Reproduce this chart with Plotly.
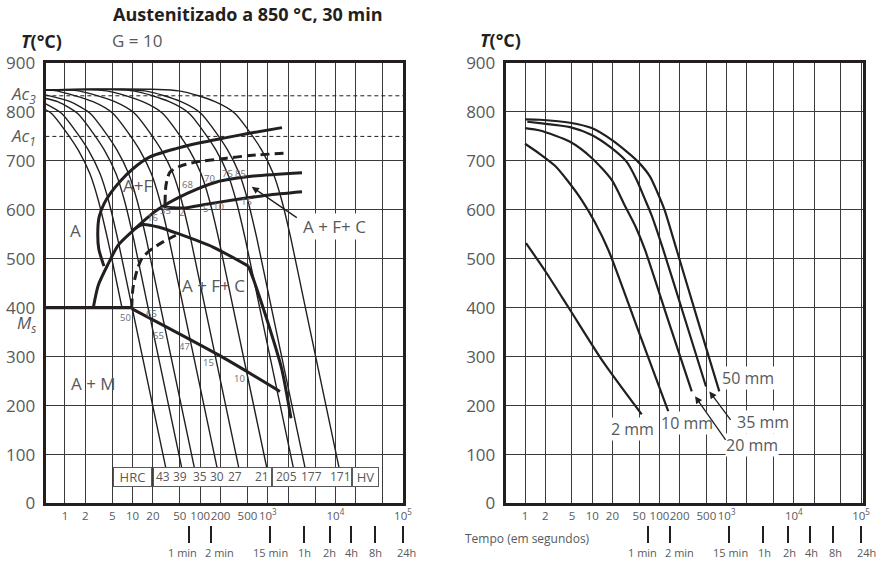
import plotly.graph_objects as go

INK = '#231f20'
GRAY = '#58595b'
LGRAY = '#6d6e71'
GRID = '#3a3a3a'
FONT = 'Open Sans'

# ---------------- ticks ----------------
temp_ticks = [0, 100, 200, 300, 400, 500, 600, 700, 800, 900]
time_grid_s = [1, 2, 5, 10, 20, 50, 100, 200, 500, 1000, 2000, 5000, 10000, 20000, 50000, 100000]
time_grid_text = ['1', '2', '5', '10', '20', '50', '100', '200', '500', '10<sup>3</sup>', '', '',
                  '10<sup>4</sup>', '', '', '10<sup>5</sup>']
clock_marks_s = [68, 145, 1080, 3470, 8300, 17250, 38300, 100000]
clock_marks_text = ['1 min', '2 min', '15 min', '1h', '2h', '4h', '8h', '24h']
clock_label_px = [182.5, 219, 270, 304, 329, 351.3, 375, 406]   # label centres (left chart)

# ---------------- left chart: cooling curves (log10 seconds, degC) ----------------
f1_lgt = [-0.29, -0.198, -0.002, 0.197, 0.368, 0.492, 0.634, 0.843]
f1_T = [805, 797, 763, 722, 674, 620, 538, 400]
e1_lgt = [-0.29, -0.048, 0.148, 0.347, 0.518, 0.642, 0.784, 0.993, 1.490]
e1_T = [817, 797, 763, 722, 674, 620, 538, 400, 74]
e2_lgt = [-0.29, -0.108, 0.188, 0.384, 0.583, 0.754, 0.878, 1.020, 1.229, 1.726]
e2_T = [828, 821, 797, 763, 722, 674, 620, 538, 400, 74]
e3_lgt = [-0.29, 0.079, 0.375, 0.571, 0.770, 0.941, 1.065, 1.207, 1.416, 1.913]
e3_T = [835, 821, 797, 763, 722, 674, 620, 538, 400, 74]
e4_lgt = [-0.29, -0.121, 0.415, 0.711, 0.907, 1.106, 1.277, 1.401, 1.543, 1.752, 2.249]
e4_T = [845, 843, 821, 797, 763, 722, 674, 620, 538, 400, 74]
e5_lgt = [-0.29, 0.200, 0.736, 1.032, 1.228, 1.427, 1.598, 1.722, 1.864, 2.073, 2.570]
e5_T = [845, 843, 821, 797, 763, 722, 674, 620, 538, 400, 74]
e6_lgt = [-0.29, 0.614, 1.150, 1.446, 1.642, 1.841, 2.012, 2.136, 2.278, 2.487, 2.984]
e6_T = [845, 843, 821, 797, 763, 722, 674, 620, 538, 400, 74]
e7_lgt = [-0.29, 1.007, 1.543, 1.839, 2.035, 2.234, 2.405, 2.529, 2.671, 2.880, 3.377]
e7_T = [845, 843, 821, 797, 763, 722, 674, 620, 538, 400, 74]
e8_lgt = [-0.29, 1.180, 1.716, 2.012, 2.208, 2.407, 2.578, 2.702, 2.844, 3.053, 3.550]
e8_T = [845, 843, 821, 797, 763, 722, 674, 620, 538, 400, 74]
e9_lgt = [-0.29, 1.683, 2.219, 2.515, 2.711, 2.910, 3.081, 3.205, 3.347, 3.556, 4.053]
e9_T = [845, 843, 821, 797, 763, 722, 674, 620, 538, 400, 74]

# transformation lines
fs_lgt = [0.577, 0.50, 0.485, 0.505, 0.577, 0.680, 0.814, 1.006, 1.257, 1.642, 1.997, 2.367, 2.707, 3.210]
fs_T = [485, 520, 552, 585, 612, 635, 658, 684, 708, 725, 737, 747, 756, 768]
b_lgt = [0.419, 0.493, 0.641, 0.788, 1.010, 1.357, 1.800, 2.244, 2.786, 3.506]
b_T = [400, 446, 490, 528, 558, 599, 633, 657, 669, 676]
c_lgt = [1.45, 1.60, 1.78, 2.07, 2.485, 2.988, 3.506]
c_T = [607, 604, 604, 611, 620, 630, 637]
ud_lgt = [1.48, 1.494, 1.553, 1.701, 1.953, 2.367, 2.737, 3.284]
ud_T = [612, 650, 677, 689, 698, 705, 711, 716]
ld_lgt = [0.987, 1.006, 1.065, 1.139, 1.257, 1.42, 1.64]
ld_T = [400, 440, 476, 501, 517, 532, 548]
d_arc_lgt = [1.0, 1.154, 1.405, 1.701, 2.189, 2.714]
d_arc_T = [558, 570, 564, 550, 524, 485]
d_drop_lgt = [2.714, 2.788, 2.973, 3.206, 3.343]
d_drop_T = [485, 458, 382, 275, 174]
bf_lgt = [0.987, 2.367, 3.180]
bf_T = [398, 296, 229]
ms_lgt = [-0.29, 0.987]
ms_T = [400, 400]
ac3_T = 833
ac1_T = 750

# ---------------- right chart: bar cooling curves ----------------
r2_lgt = [0.015, 0.30, 0.65, 1.15, 1.737]
r2_T = [532, 475, 400, 292, 182]
r10_lgt = [0.0, 0.223, 0.446, 0.625, 0.844, 1.034, 1.240, 1.686, 2.132]
r10_T = [735, 714, 690, 661, 620, 576, 518, 353, 188]
r20_lgt = [0.0, 0.223, 0.670, 0.993, 1.290, 1.488, 1.644, 1.786, 2.133, 2.481]
r20_T = [767, 762, 739, 706, 661, 608, 566, 518, 373, 229]
r35_lgt = [0.034, 0.223, 0.670, 0.993, 1.290, 1.513, 1.662, 1.771, 1.880, 2.058, 2.375, 2.693]
r35_T = [780, 777, 769, 753, 726, 698, 661, 626, 590, 518, 379, 239]
r50_lgt = [0.0, 0.223, 0.670, 0.993, 1.290, 1.513, 1.677, 1.860, 1.972, 2.076, 2.257, 2.573, 2.891]
r50_T = [785, 784, 778, 767, 743, 719, 699, 668, 635, 600, 518, 373, 229]

# ---------------- text data ----------------
region_labels = [('A+F', 1.070, 650), ('A', 0.163, 558), ('A + F+ C', 2.194, 446),
                 ('A + M', 0.419, 246)]
small_labels = [('68', 1.815, 652), ('70', 2.145, 664), ('75', 2.407, 674), ('85', 2.599, 675),
                ('35', 1.490, 598), ('2', 1.726, 594), ('5', 2.081, 603), ('10', 2.278, 606),
                ('15', 2.688, 616), ('16', 1.297, 584), ('50', 0.902, 379), ('65', 1.283, 388),
                ('65', 1.391, 344), ('47', 1.775, 320), ('15', 2.120, 288), ('10', 2.589, 256)]
hard_values = ['43', '39', '35', '30', '27', '21', '205', '177', '171']
hard_lgt = [1.454, 1.701, 1.997, 2.244, 2.515, 2.910, 3.280, 3.649, 4.078]
box_cells = [('HRC', 1.003, 37), (' ', 2.175, 117), (' ', 3.654, 78), ('HV', 4.448, 25)]
box_T = 54.8
bar_labels = [('50 mm', 3.318, 256), ('35 mm', 3.542, 166), ('20 mm', 3.374, 120),
              ('10 mm', 2.406, 165), ('2 mm', 1.600, 152)]

W, H = 878, 563
fig = go.Figure()


def add_line(lgt, T, width, xa='x', ya='y', dash=None, shape='spline'):
    fig.add_trace(go.Scatter(
        x=[10 ** v for v in lgt], y=T, mode='lines', xaxis=xa, yaxis=ya,
        line=dict(color=INK, width=width, dash=dash, shape=shape, smoothing=0.7),
        hoverinfo='skip', showlegend=False))


# left thin cooling curves
for lg_, T_ in [(f1_lgt, f1_T), (e1_lgt, e1_T), (e2_lgt, e2_T), (e3_lgt, e3_T), (e4_lgt, e4_T),
                (e5_lgt, e5_T), (e6_lgt, e6_T), (e7_lgt, e7_T), (e8_lgt, e8_T), (e9_lgt, e9_T)]:
    add_line(lg_, T_, 1.4)

# Ac lines
x_full = [-0.29, 5.01]
add_line(x_full, [ac3_T, ac3_T], 1, dash='4px,3px', shape='linear')
add_line(x_full, [ac1_T, ac1_T], 1, dash='4px,3px', shape='linear')

# thick transformation lines
add_line(fs_lgt, fs_T, 3)
add_line(b_lgt, b_T, 3)
add_line(c_lgt, c_T, 3)
add_line(ud_lgt, ud_T, 3, dash='9px,5px')
add_line(ld_lgt, ld_T, 3, dash='9px,5px')
add_line(d_arc_lgt, d_arc_T, 3)
add_line(d_drop_lgt, d_drop_T, 3)
add_line(bf_lgt, bf_T, 3)
add_line(ms_lgt, ms_T, 3.2, shape='linear')

# right curves
for lg_, T_ in [(r2_lgt, r2_T), (r10_lgt, r10_T), (r20_lgt, r20_T), (r35_lgt, r35_T), (r50_lgt, r50_T)]:
    add_line(lg_, T_, 2.2, xa='x2', ya='y2')

# dummy traces for the clock-mark axes
fig.add_trace(go.Scatter(x=[10], y=[None], xaxis='x3', yaxis='y', showlegend=False, hoverinfo='skip'))
fig.add_trace(go.Scatter(x=[10], y=[None], xaxis='x4', yaxis='y2', showlegend=False, hoverinfo='skip'))

ydom = [0.1057, 0.8881]
xl_dom = [0.0520, 0.4593]
xr_dom = [0.5760, 0.9826]
xl_range = [-0.2855, 5.004]
xr_range = [-0.287, 5.025]

common_x = dict(type='log', tickmode='array', tickvals=time_grid_s, ticktext=time_grid_text,
                showgrid=True, gridcolor=GRID, gridwidth=1, showline=True, mirror=True,
                linecolor=INK, linewidth=3, ticks='', zeroline=False, automargin=False,
                tickangle=0, tickfont=dict(family=FONT, size=11.5, color=GRAY))
common_y = dict(range=[0, 900], tickmode='array', tickvals=temp_ticks, showgrid=True,
                gridcolor=GRID, gridwidth=1.2, showline=True, mirror=True, linecolor=INK,
                linewidth=3, ticks='', zeroline=False, ticklabelstandoff=4, automargin=False,
                tickfont=dict(family=FONT, size=17, color=GRAY), domain=ydom)
clock_axis = dict(type='log', tickmode='array', tickvals=clock_marks_s, showticklabels=False,
                  showgrid=False, showline=False, zeroline=False, ticks='outside', ticklen=17,
                  tickwidth=2, tickcolor=INK, anchor='free', position=0.0675, side='bottom',
                  automargin=False)

fig.update_layout(
    width=W, height=H, margin=dict(l=0, r=0, t=0, b=0, autoexpand=False),
    paper_bgcolor='white', plot_bgcolor='white', showlegend=False,
    font=dict(family=FONT, color=GRAY),
    xaxis=dict(common_x, domain=xl_dom, range=xl_range, anchor='y'),
    yaxis=dict(common_y, anchor='x'),
    xaxis2=dict(common_x, domain=xr_dom, range=xr_range, anchor='y2'),
    yaxis2=dict(common_y, anchor='x2'),
    xaxis3=dict(clock_axis, overlaying='x', range=xl_range),
    xaxis4=dict(clock_axis, overlaying='x2', range=xr_range),
)

ann = []


def txt_ann(text, x, y, xref, yref, size, color=GRAY, **kw):
    d = dict(text=text, x=x, y=y, xref=xref, yref=yref, showarrow=False,
             xanchor=kw.pop('xanchor', 'center'), yanchor='middle',
             font=dict(family=FONT, size=size, color=color))
    d.update(kw)
    ann.append(d)


# titles
txt_ann('<b>Austenitizado a 850 °C, 30 min</b>', 247.5 / W, 1 - 14 / H, 'paper', 'paper', 18, INK)
txt_ann('<b><i>T</i>(°C)</b>', 41 / W, 1 - 41 / H, 'paper', 'paper', 18, INK)
txt_ann('G = 10', 136.5 / W, 1 - 41 / H, 'paper', 'paper', 17)
txt_ann('<b><i>T</i>(°C)</b>', 500 / W, 1 - 40 / H, 'paper', 'paper', 18, INK)
txt_ann('Tempo (em segundos)', 527.5 / W, 1 - 538 / H, 'paper', 'paper', 12)
# clock labels under both charts
for off in (0, 460):
    for t, px in zip(clock_marks_text, clock_label_px):
        txt_ann(t, (px + off) / W, 1 - 552 / H, 'paper', 'paper', 11)
# Ac / Ms labels
for t, T in [('<i>Ac<sub>3</sub></i>', 836), ('<i>Ac<sub>1</sub></i>', 750), ('<i>M<sub>s</sub></i>', 367)]:
    txt_ann(t, 38 / W, T, 'paper', 'y', 17, xanchor='right')
for t, x, T in region_labels:
    txt_ann(t, x, T, 'x', 'y', 17)
txt_ann('A + F+ C', 3.994, 565, 'x', 'y', 17, bgcolor='white')
ann.append(dict(text='', x=2.762, y=647, ax=3.451, ay=582, xref='x', yref='y', axref='x', ayref='y',
                showarrow=True, arrowhead=2, arrowsize=1.1, arrowwidth=1.3, arrowcolor=INK))
for t, x, T in small_labels:
    txt_ann(t, x, T, 'x', 'y', 9.5, LGRAY)
# HRC / HV box
for t, x, w in box_cells:
    txt_ann(t, x, box_T, 'x', 'y', 13, width=w, height=18, bgcolor='white', bordercolor=GRAY,
            borderwidth=1, borderpad=0)
for t, x in zip(hard_values, hard_lgt):
    txt_ann(t, x, box_T, 'x', 'y', 12)
# right labels and arrows
for t, x, T in bar_labels:
    txt_ann(t, x, T, 'x2', 'y2', 16, bgcolor='white', borderpad=0)
ann.append(dict(text='', x=2.530, y=219, ax=3.001, ay=127, xref='x2', yref='y2', axref='x2', ayref='y2',
                showarrow=True, arrowhead=2, arrowsize=1.1, arrowwidth=1.3, arrowcolor=INK))
ann.append(dict(text='', x=2.743, y=229, ax=3.076, ay=168, xref='x2', yref='y2', axref='x2', ayref='y2',
                showarrow=True, arrowhead=2, arrowsize=1.1, arrowwidth=1.3, arrowcolor=INK))

fig.update_layout(annotations=ann)
fig.write_html('out.html')
